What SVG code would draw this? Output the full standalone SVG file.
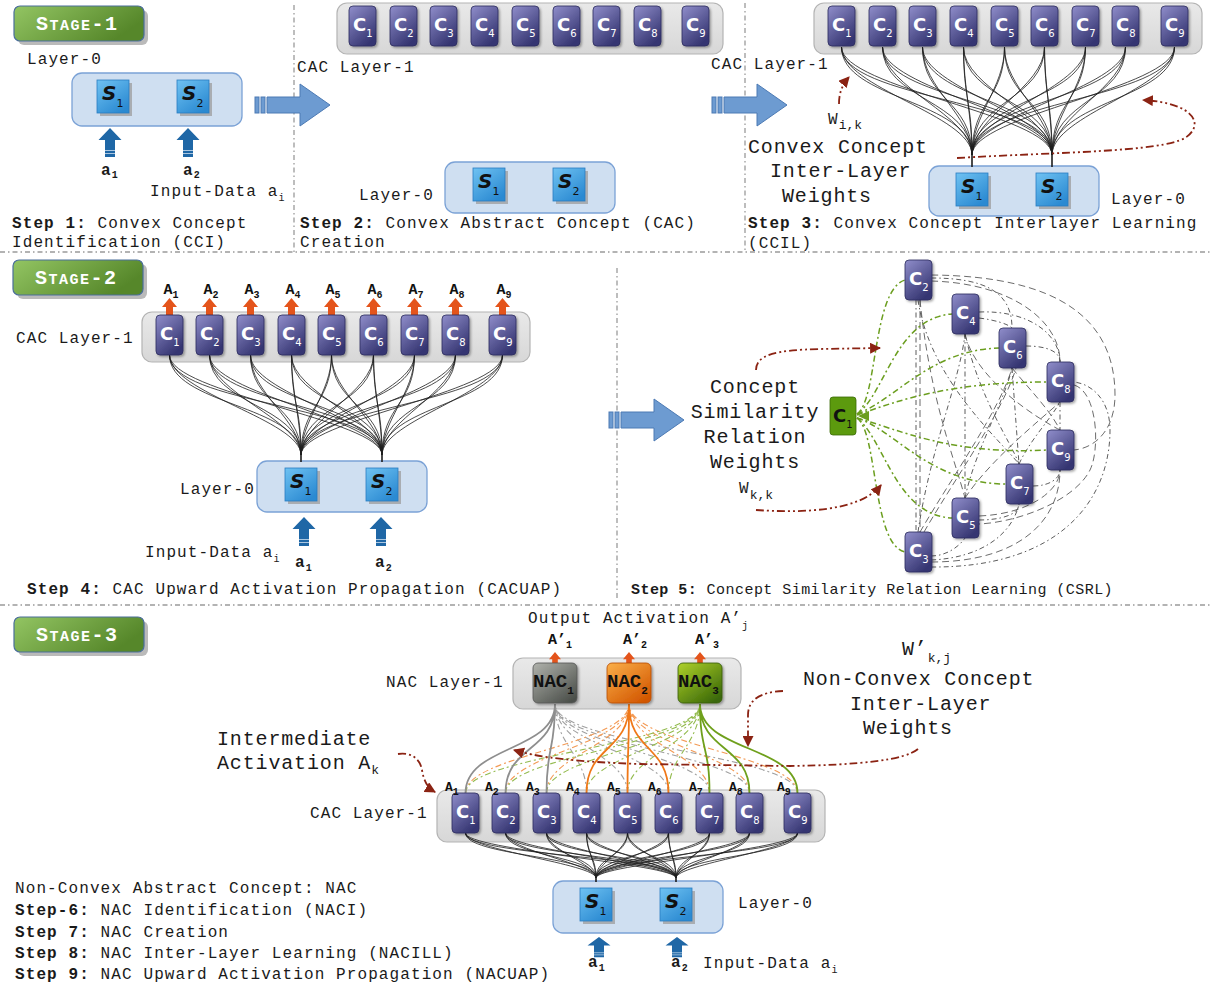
<svg xmlns="http://www.w3.org/2000/svg" width="1212" height="990" viewBox="0 0 1212 990">
<defs>
<style>
.t{font-family:"Liberation Mono","Courier New",monospace;font-size:16px;letter-spacing:1.1px;fill:#1a1a1a}
.bd{font-weight:bold}
.big{font-size:20px;letter-spacing:0.85px}
.sm{font-size:15px;letter-spacing:0.45px}
.sb{font-size:10px;letter-spacing:0}
.sbb{font-size:13px;letter-spacing:0}
.cl{font-family:"DejaVu Sans",sans-serif;font-weight:bold;font-size:18px;fill:#fff}
.cs{font-size:10px;font-weight:normal}
.sl{font-family:"DejaVu Sans",sans-serif;font-weight:bold;font-style:italic;font-size:20px;fill:#111}
.ss{font-size:11px;font-style:normal;font-weight:normal}
.nl{font-family:"Liberation Mono",monospace;font-weight:bold;font-size:19px;fill:#111}
.ak{font-family:"Liberation Mono",monospace;font-weight:bold;font-size:15px;fill:#111}
.ak3{font-family:"Liberation Mono",monospace;font-weight:bold;font-size:13px;fill:#111}
.badge{font-family:"Liberation Mono",monospace;font-weight:bold;fill:#fff;letter-spacing:1.5px}
.div{fill:none;stroke:#9a9a9a;stroke-width:1.3;stroke-dasharray:5 3 1.5 3}
.fan{fill:none;stroke:#1e1e1e;stroke-width:0.8}
.stub{stroke:#1e1e1e;stroke-width:1.6}
.red{fill:none;stroke:#8b2313;stroke-width:1.8;stroke-dasharray:8 3 2 3 2 3}
.grn{fill:none;stroke:#6b9e1f;stroke-width:1.5;stroke-dasharray:6 3 2 3}
.web{fill:none;stroke:#4a4a4a;stroke-width:0.9;stroke-dasharray:5 3 1.5 3}
.web2{fill:none;stroke:#5a5a5a;stroke-width:0.9;stroke-dasharray:7 4}
.cbox{fill:url(#gC);stroke:#b4b4b4;stroke-width:1.2}
.sbox{fill:#cfdff1;stroke:#7ba2d6;stroke-width:1.3}
.blk{fill:#6d9bd1;stroke:#4c7ab4;stroke-width:1}
.inA{fill:#1f67a6}
.orA{fill:#e4541b}
.dg{fill:none;stroke:#a0a0a0;stroke-width:1.1;stroke-dasharray:6 3 2 3}
.do{fill:none;stroke:#f39a55;stroke-width:1.1;stroke-dasharray:6 3 2 3}
.dgr{fill:none;stroke:#93bb4e;stroke-width:1.1;stroke-dasharray:6 3 2 3}
.sg{fill:none;stroke:#8e8e8e;stroke-width:1.8}
.so{fill:none;stroke:#f07818;stroke-width:1.8}
.sgr{fill:none;stroke:#6fa01c;stroke-width:1.8}
</style>
<linearGradient id="gP" x1="0" y1="0" x2="0.6" y2="1"><stop offset="0" stop-color="#908ecb"/><stop offset="1" stop-color="#363672"/></linearGradient>
<linearGradient id="gS" x1="0" y1="0" x2="0.7" y2="1"><stop offset="0" stop-color="#6fc2f2"/><stop offset="1" stop-color="#2b8ad2"/></linearGradient>
<linearGradient id="gC" x1="0" y1="0" x2="0" y2="1"><stop offset="0" stop-color="#e9e9e9"/><stop offset="1" stop-color="#d7d7d7"/></linearGradient>
<linearGradient id="gG" x1="0" y1="0" x2="1" y2="0.4"><stop offset="0" stop-color="#93c563"/><stop offset="1" stop-color="#56872a"/></linearGradient>
<linearGradient id="gN1" x1="0" y1="0" x2="0.8" y2="1"><stop offset="0" stop-color="#b0b2ac"/><stop offset="1" stop-color="#4c504b"/></linearGradient>
<linearGradient id="gN2" x1="0" y1="0" x2="0.8" y2="1"><stop offset="0" stop-color="#fbb04a"/><stop offset="1" stop-color="#d25600"/></linearGradient>
<linearGradient id="gN3" x1="0" y1="0" x2="0.8" y2="1"><stop offset="0" stop-color="#afd22a"/><stop offset="1" stop-color="#3a6808"/></linearGradient>
<filter id="sh" x="-30%" y="-30%" width="160%" height="160%"><feDropShadow dx="1.5" dy="1.5" stdDeviation="1" flood-color="#000" flood-opacity="0.35"/></filter>
<marker id="rh" viewBox="0 0 10 10" refX="9" refY="5" markerWidth="11" markerHeight="11" markerUnits="userSpaceOnUse" orient="auto"><path d="M0,0L10,5L0,10Z" fill="#8b2313"/></marker>
<rect id="cn" width="27" height="40" rx="4" fill="url(#gP)" stroke="#2c2c5e" stroke-width="0.8" filter="url(#sh)"/>
<g id="sn"><rect x="3" y="3" width="32" height="33" fill="#9c9c9c" opacity="0.75"/><rect width="32" height="33" fill="url(#gS)" stroke="#2a7cc0" stroke-width="0.8"/></g>
<g id="blkA" class="blk"><rect x="0" y="-8" width="4" height="16"/><rect x="6" y="-8" width="4" height="16"/><path d="M12,-8H45V-21L75,0L45,21V8H12Z"/></g>
<g id="inArrow" class="inA"><path d="M0,0L11.5,12H5V29H-5V12H-11.5Z"/><path d="M-5,22.5H5M-5,25.5H5" stroke="#cfe0f0" stroke-width="0.8"/></g>
<path id="orArrow" class="orA" d="M0,0L7.5,9H3.5V20H-3.5V9H-7.5Z"/>
<g id="badgeBg"><rect x="4" y="4" width="130" height="35" rx="6" fill="#8c8c8c" opacity="0.6"/><rect width="130" height="35" rx="6" fill="url(#gG)" stroke="#4a6e9a" stroke-width="1.2"/></g>
</defs>

<rect width="1212" height="990" fill="#fff"/>

<!-- section dividers -->
<g id="dividers">
<path class="div" d="M0,252H1212M0,605H1212M294,5V252M745,3V252M617,268V600"/>
</g>

<!-- stage badges -->
<g id="badge1"><use href="#badgeBg" x="14" y="6"/><text class="badge" x="36" y="30"><tspan font-size="20">S</tspan><tspan font-size="15">TAGE</tspan><tspan font-size="20">-1</tspan></text></g>
<g id="badge2"><use href="#badgeBg" x="13" y="260"/><text class="badge" x="35" y="284"><tspan font-size="20">S</tspan><tspan font-size="15">TAGE</tspan><tspan font-size="20">-2</tspan></text></g>
<g id="badge3"><use href="#badgeBg" x="14" y="617"/><text class="badge" x="36" y="641"><tspan font-size="20">S</tspan><tspan font-size="15">TAGE</tspan><tspan font-size="20">-3</tspan></text></g>

<!-- layer containers -->
<g id="layers">
<rect id="l0-step1" class="sbox" x="72" y="73" width="170" height="53" rx="10"/>
<rect id="l1-step2" class="cbox" x="337" y="3" width="386" height="51" rx="10"/>
<rect id="l0-step2" class="sbox" x="445" y="162" width="170" height="51" rx="10"/>
<rect id="l1-step3" class="cbox" x="814" y="3" width="388" height="51" rx="10"/>
<rect id="l0-step3" class="sbox" x="929" y="166" width="170" height="50" rx="10"/>
<rect id="l1-step4" class="cbox" x="142" y="312" width="388" height="50" rx="10"/>
<rect id="l0-step4" class="sbox" x="257" y="461" width="170" height="51" rx="10"/>
<rect id="nac-layer" class="cbox" x="513" y="658" width="228" height="51" rx="10"/>
<rect id="l1-stage3" class="cbox" x="437" y="790" width="388" height="52" rx="10"/>
<rect id="l0-stage3" class="sbox" x="553" y="881" width="170" height="52" rx="10"/>
</g>

<!-- connectors -->
<g id="connectors">
<!-- transition arrows -->
<use href="#blkA" x="255" y="105"/>
<use href="#blkA" x="712" y="105"/>
<use href="#blkA" x="609" y="420"/>

<!-- step 3: C to S fan -->
<g id="fan-step3" class="fan">
<path d="M841.5,47C841.5,100 972,100 972,155M841.5,47C841.5,88 972,115 972,155M841.5,47C841.5,100 1052,100 1052,155M841.5,47C841.5,88 1052,115 1052,155"/>
<path d="M882.5,47C882.5,100 972,100 972,155M882.5,47C882.5,88 972,115 972,155M882.5,47C882.5,100 1052,100 1052,155M882.5,47C882.5,88 1052,115 1052,155"/>
<path d="M922.5,47C922.5,100 972,100 972,155M922.5,47C922.5,88 972,115 972,155M922.5,47C922.5,100 1052,100 1052,155M922.5,47C922.5,88 1052,115 1052,155"/>
<path d="M963.5,47C963.5,100 972,100 972,155M963.5,47C963.5,88 972,115 972,155M963.5,47C963.5,100 1052,100 1052,155M963.5,47C963.5,88 1052,115 1052,155"/>
<path d="M1004.5,47C1004.5,100 972,100 972,155M1004.5,47C1004.5,88 972,115 972,155M1004.5,47C1004.5,100 1052,100 1052,155M1004.5,47C1004.5,88 1052,115 1052,155"/>
<path d="M1044.5,47C1044.5,100 972,100 972,155M1044.5,47C1044.5,88 972,115 972,155M1044.5,47C1044.5,100 1052,100 1052,155M1044.5,47C1044.5,88 1052,115 1052,155"/>
<path d="M1085.5,47C1085.5,100 972,100 972,155M1085.5,47C1085.5,88 972,115 972,155M1085.5,47C1085.5,100 1052,100 1052,155M1085.5,47C1085.5,88 1052,115 1052,155"/>
<path d="M1125.5,47C1125.5,100 972,100 972,155M1125.5,47C1125.5,88 972,115 972,155M1125.5,47C1125.5,100 1052,100 1052,155M1125.5,47C1125.5,88 1052,115 1052,155"/>
<path d="M1174.5,47C1174.5,100 972,100 972,155M1174.5,47C1174.5,88 972,115 972,155M1174.5,47C1174.5,100 1052,100 1052,155M1174.5,47C1174.5,88 1052,115 1052,155"/>
</g>
<path class="stub" d="M972,150V167M1052,150V167"/>

<!-- step 4: C to S fan -->
<g id="fan-step4" class="fan">
<path d="M169.5,355C169.5,405 301,405 301,455M169.5,355C169.5,393 301,420 301,455M169.5,355C169.5,405 382,405 382,455M169.5,355C169.5,393 382,420 382,455"/>
<path d="M209.5,355C209.5,405 301,405 301,455M209.5,355C209.5,393 301,420 301,455M209.5,355C209.5,405 382,405 382,455M209.5,355C209.5,393 382,420 382,455"/>
<path d="M250.5,355C250.5,405 301,405 301,455M250.5,355C250.5,393 301,420 301,455M250.5,355C250.5,405 382,405 382,455M250.5,355C250.5,393 382,420 382,455"/>
<path d="M291.5,355C291.5,405 301,405 301,455M291.5,355C291.5,393 301,420 301,455M291.5,355C291.5,405 382,405 382,455M291.5,355C291.5,393 382,420 382,455"/>
<path d="M331.5,355C331.5,405 301,405 301,455M331.5,355C331.5,393 301,420 301,455M331.5,355C331.5,405 382,405 382,455M331.5,355C331.5,393 382,420 382,455"/>
<path d="M373.5,355C373.5,405 301,405 301,455M373.5,355C373.5,393 301,420 301,455M373.5,355C373.5,405 382,405 382,455M373.5,355C373.5,393 382,420 382,455"/>
<path d="M414.5,355C414.5,405 301,405 301,455M414.5,355C414.5,393 301,420 301,455M414.5,355C414.5,405 382,405 382,455M414.5,355C414.5,393 382,420 382,455"/>
<path d="M455.5,355C455.5,405 301,405 301,455M455.5,355C455.5,393 301,420 301,455M455.5,355C455.5,405 382,405 382,455M455.5,355C455.5,393 382,420 382,455"/>
<path d="M502.5,355C502.5,405 301,405 301,455M502.5,355C502.5,393 301,420 301,455M502.5,355C502.5,405 382,405 382,455M502.5,355C502.5,393 382,420 382,455"/>
</g>
<path class="stub" d="M301,450V462M382,450V462"/>

<!-- stage 3: C to S fan -->
<g id="fan-stage3" class="fan">
<path d="M465.5,833C465.5,856 596,856 596,878M465.5,833C465.5,850 596,864 596,878M465.5,833C465.5,856 676,856 676,878M465.5,833C465.5,850 676,864 676,878"/>
<path d="M505.5,833C505.5,856 596,856 596,878M505.5,833C505.5,850 596,864 596,878M505.5,833C505.5,856 676,856 676,878M505.5,833C505.5,850 676,864 676,878"/>
<path d="M546.5,833C546.5,856 596,856 596,878M546.5,833C546.5,850 596,864 596,878M546.5,833C546.5,856 676,856 676,878M546.5,833C546.5,850 676,864 676,878"/>
<path d="M586.5,833C586.5,856 596,856 596,878M586.5,833C586.5,850 596,864 596,878M586.5,833C586.5,856 676,856 676,878M586.5,833C586.5,850 676,864 676,878"/>
<path d="M627.5,833C627.5,856 596,856 596,878M627.5,833C627.5,850 596,864 596,878M627.5,833C627.5,856 676,856 676,878M627.5,833C627.5,850 676,864 676,878"/>
<path d="M668.5,833C668.5,856 596,856 596,878M668.5,833C668.5,850 596,864 596,878M668.5,833C668.5,856 676,856 676,878M668.5,833C668.5,850 676,864 676,878"/>
<path d="M709.5,833C709.5,856 596,856 596,878M709.5,833C709.5,850 596,864 596,878M709.5,833C709.5,856 676,856 676,878M709.5,833C709.5,850 676,864 676,878"/>
<path d="M749.5,833C749.5,856 596,856 596,878M749.5,833C749.5,850 596,864 596,878M749.5,833C749.5,856 676,856 676,878M749.5,833C749.5,850 676,864 676,878"/>
<path d="M797.5,833C797.5,856 596,856 596,878M797.5,833C797.5,850 596,864 596,878M797.5,833C797.5,856 676,856 676,878M797.5,833C797.5,850 676,864 676,878"/>
</g>
<path class="stub" d="M596,875V882M676,875V882"/>

<!-- stage 3: C to NAC links (cross links dashed, own group solid) -->
<g id="nac-cross">
<path class="dg" d="M586.5,793C586.5,755 555,745 555,704M627.5,793C627.5,755 555,745 555,704M668.5,793C668.5,755 555,745 555,704M709.5,793C709.5,755 555,745 555,704M749.5,793C749.5,755 555,745 555,704M797.5,793C797.5,755 555,745 555,704"/>
<path class="do" d="M465.5,793C465.5,755 629,745 629,704M505.5,793C505.5,755 629,745 629,704M546.5,793C546.5,755 629,745 629,704M709.5,793C709.5,755 629,745 629,704M749.5,793C749.5,755 629,745 629,704M797.5,793C797.5,755 629,745 629,704"/>
<path class="dgr" d="M465.5,793C465.5,755 700,745 700,704M505.5,793C505.5,755 700,745 700,704M546.5,793C546.5,755 700,745 700,704M586.5,793C586.5,755 700,745 700,704M627.5,793C627.5,755 700,745 700,704M668.5,793C668.5,755 700,745 700,704"/>
</g>
<g id="nac-own">
<path class="sg" d="M465.5,793C465.5,745 555,752 555,704M505.5,793C505.5,745 555,752 555,704M546.5,793C546.5,745 555,752 555,704"/>
<path class="so" d="M586.5,793C586.5,745 629,752 629,704M627.5,793C627.5,745 629,752 629,704M668.5,793C668.5,745 629,752 629,704"/>
<path class="sgr" d="M709.5,793C709.5,745 700,752 700,704M749.5,793C749.5,745 700,752 700,704M797.5,793C797.5,745 700,752 700,704"/>
</g>

<!-- step 5: similarity web among concepts -->
<g id="sim-web">
<path class="web" d="M916,300V532"/>
<path class="web2" d="M920,300V532"/>
<path class="web" d="M965,334V498"/>
<path class="web" d="M1012,368L1019,464"/>
<path class="web" d="M1060,402V430"/>
<path class="web" d="M931,278C985,278 1012,292 1012,328"/>
<path class="web2" d="M931,281C1010,283 1060,320 1060,362"/>
<path class="web2" d="M931,275C1060,276 1115,320 1115,395C1115,430 1095,448 1074,450"/>
<path class="web" d="M979,312C1030,310 1060,335 1060,362"/>
<path class="web" d="M1026,346C1048,346 1060,352 1060,362"/>
<path class="web" d="M979,318C995,320 1008,324 1012,328"/>
<path class="web2" d="M965,334C975,380 1040,420 1060,430"/>
<path class="web" d="M918,300C930,380 1000,440 1019,464"/>
<path class="web2" d="M920,300C930,400 955,460 965,498"/>
<path class="web" d="M918,532C930,450 960,380 965,334"/>
<path class="web2" d="M920,532C950,480 1000,410 1012,368"/>
<path class="web2" d="M924,532C954,480 1004,410 1016,368"/>
<path class="web" d="M965,498C975,450 1005,400 1012,368"/>
<path class="web2" d="M965,498C990,460 1040,420 1060,402"/>
<path class="web" d="M965,334C980,400 1010,440 1019,464"/>
<path class="web2" d="M1012,368C1030,390 1050,410 1060,430"/>
<path class="web" d="M931,556C945,556 958,548 965,538"/>
<path class="web" d="M931,560C980,558 1012,535 1019,504"/>
<path class="web2" d="M931,562C1020,562 1060,520 1060,470"/>
<path class="web" d="M931,567C1060,568 1110,500 1110,430C1110,400 1092,384 1074,382"/>
<path class="web" d="M979,520C1000,520 1019,515 1019,504"/>
<path class="web2" d="M979,516C1030,514 1060,490 1060,470"/>
<path class="web" d="M1033,486C1050,486 1060,478 1060,470"/>
<path class="web" d="M1019,464C1030,440 1050,420 1060,402"/>
<path class="web2" d="M1074,385C1098,392 1100,450 1090,470C1075,500 1020,522 979,524"/>
</g>

<!-- step 5: links from C1 -->
<g id="sim-c1">
<path class="grn" d="M857,414C878,400 872,290 905,280"/>
<path class="grn" d="M857,414C885,395 895,318 952,314"/>
<path class="grn" d="M857,414C895,400 930,350 999,348"/>
<path class="grn" d="M857,415C900,400 950,382 1047,382"/>
<path class="grn" d="M857,418C900,430 950,455 1047,450"/>
<path class="grn" d="M857,418C895,430 930,484 1006,484"/>
<path class="grn" d="M857,418C885,440 895,515 952,518"/>
<path class="grn" d="M857,418C878,432 872,545 905,552"/>
<path d="M858,416L869,411L869,421Z" fill="#6b9e1f"/>
</g>

<!-- weight annotations -->
<g id="weight-arrows">
<path class="red" marker-end="url(#rh)" d="M957,158C1060,152 1160,152 1185,138C1205,125 1195,103 1143,100"/>
<path class="red" marker-end="url(#rh)" d="M839,104C839,93 842,85 849,77"/>
<path class="red" marker-end="url(#rh)" d="M756,370C756,355 775,350 820,349L880,348"/>
<path class="red" marker-end="url(#rh)" d="M756,510C800,513 860,512 881,485"/>
<path class="red" marker-end="url(#rh)" d="M398,754C410,752 420,758 422,770C424,782 428,788 435,792"/>
<path class="red" marker-end="url(#rh)" d="M918,749C905,760 860,765 790,766L640,764C580,762 540,758 514,750"/>
<path class="red" marker-end="url(#rh)" d="M783,691C760,692 748,700 748,715L748,746"/>
</g>
</g>

<!-- STAGE 1 / STEP 1 -->
<g id="s1-s1"><use href="#sn" x="97" y="80"/><text class="sl" x="102" y="100">S<tspan class="ss" dy="7">1</tspan></text></g>
<g id="s1-s2"><use href="#sn" x="177" y="80"/><text class="sl" x="182" y="100">S<tspan class="ss" dy="7">2</tspan></text></g>
<g id="s1-in1"><use href="#inArrow" x="110" y="128"/><text class="t bd" x="101" y="175">a<tspan class="sb" dy="3">1</tspan></text></g>
<g id="s1-in2"><use href="#inArrow" x="188" y="128"/><text class="t bd" x="183" y="175">a<tspan class="sb" dy="3">2</tspan></text></g>
<g id="s1-text">
<text class="t" x="27" y="64">Layer-0</text>
<text class="t" x="150" y="196">Input-Data a<tspan class="sb" dy="5">i</tspan></text>
<text class="t" x="12" y="228"><tspan class="bd">Step 1:</tspan> Convex Concept</text>
<text class="t" x="12" y="247">Identification (CCI)</text>
</g>

<!-- STAGE 1 / STEP 2 -->
<g id="s2-c1"><use href="#cn" x="349" y="6"/><text class="cl" x="353" y="31">C<tspan class="cs" dy="6">1</tspan></text></g>
<g id="s2-c2"><use href="#cn" x="390" y="6"/><text class="cl" x="394" y="31">C<tspan class="cs" dy="6">2</tspan></text></g>
<g id="s2-c3"><use href="#cn" x="430" y="6"/><text class="cl" x="434" y="31">C<tspan class="cs" dy="6">3</tspan></text></g>
<g id="s2-c4"><use href="#cn" x="471" y="6"/><text class="cl" x="475" y="31">C<tspan class="cs" dy="6">4</tspan></text></g>
<g id="s2-c5"><use href="#cn" x="512" y="6"/><text class="cl" x="516" y="31">C<tspan class="cs" dy="6">5</tspan></text></g>
<g id="s2-c6"><use href="#cn" x="553" y="6"/><text class="cl" x="557" y="31">C<tspan class="cs" dy="6">6</tspan></text></g>
<g id="s2-c7"><use href="#cn" x="593" y="6"/><text class="cl" x="597" y="31">C<tspan class="cs" dy="6">7</tspan></text></g>
<g id="s2-c8"><use href="#cn" x="634" y="6"/><text class="cl" x="638" y="31">C<tspan class="cs" dy="6">8</tspan></text></g>
<g id="s2-c9"><use href="#cn" x="682" y="6"/><text class="cl" x="686" y="31">C<tspan class="cs" dy="6">9</tspan></text></g>
<g id="s2-s1"><use href="#sn" x="473" y="168"/><text class="sl" x="478" y="188">S<tspan class="ss" dy="7">1</tspan></text></g>
<g id="s2-s2"><use href="#sn" x="553" y="168"/><text class="sl" x="558" y="188">S<tspan class="ss" dy="7">2</tspan></text></g>
<g id="s2-text">
<text class="t" x="297" y="72">CAC Layer-1</text>
<text class="t" x="359" y="200">Layer-0</text>
<text class="t" x="300" y="228"><tspan class="bd">Step 2:</tspan> Convex Abstract Concept (CAC)</text>
<text class="t" x="300" y="247">Creation</text>
</g>

<!-- STAGE 1 / STEP 3 -->
<g id="s3-c1"><use href="#cn" x="828" y="6"/><text class="cl" x="832" y="31">C<tspan class="cs" dy="6">1</tspan></text></g>
<g id="s3-c2"><use href="#cn" x="869" y="6"/><text class="cl" x="873" y="31">C<tspan class="cs" dy="6">2</tspan></text></g>
<g id="s3-c3"><use href="#cn" x="909" y="6"/><text class="cl" x="913" y="31">C<tspan class="cs" dy="6">3</tspan></text></g>
<g id="s3-c4"><use href="#cn" x="950" y="6"/><text class="cl" x="954" y="31">C<tspan class="cs" dy="6">4</tspan></text></g>
<g id="s3-c5"><use href="#cn" x="991" y="6"/><text class="cl" x="995" y="31">C<tspan class="cs" dy="6">5</tspan></text></g>
<g id="s3-c6"><use href="#cn" x="1031" y="6"/><text class="cl" x="1035" y="31">C<tspan class="cs" dy="6">6</tspan></text></g>
<g id="s3-c7"><use href="#cn" x="1072" y="6"/><text class="cl" x="1076" y="31">C<tspan class="cs" dy="6">7</tspan></text></g>
<g id="s3-c8"><use href="#cn" x="1112" y="6"/><text class="cl" x="1116" y="31">C<tspan class="cs" dy="6">8</tspan></text></g>
<g id="s3-c9"><use href="#cn" x="1161" y="6"/><text class="cl" x="1165" y="31">C<tspan class="cs" dy="6">9</tspan></text></g>
<g id="s3-s1"><use href="#sn" x="956" y="173"/><text class="sl" x="961" y="193">S<tspan class="ss" dy="7">1</tspan></text></g>
<g id="s3-s2"><use href="#sn" x="1036" y="173"/><text class="sl" x="1041" y="193">S<tspan class="ss" dy="7">2</tspan></text></g>
<g id="s3-text">
<text class="t" x="711" y="69">CAC Layer-1</text>
<text class="t" x="828" y="124" font-size="17">W<tspan class="sbb" dy="5">i,k</tspan></text>
<text class="t big" x="748" y="153">Convex Concept</text>
<text class="t big" x="770" y="177">Inter-Layer</text>
<text class="t big" x="782" y="202">Weights</text>
<text class="t" x="1111" y="204">Layer-0</text>
<text class="t" x="748" y="228"><tspan class="bd">Step 3:</tspan> Convex Concept Interlayer Learning</text>
<text class="t" x="748" y="248">(CCIL)</text>
</g>

<!-- STAGE 2 / STEP 4 -->
<g id="s4-c1"><use href="#orArrow" x="169.5" y="298"/><use href="#cn" x="156" y="315"/><text class="cl" x="160" y="340">C<tspan class="cs" dy="6">1</tspan></text><text class="ak" x="163.5" y="294">A<tspan class="sb" dy="4">1</tspan></text></g>
<g id="s4-c2"><use href="#orArrow" x="209.5" y="298"/><use href="#cn" x="196" y="315"/><text class="cl" x="200" y="340">C<tspan class="cs" dy="6">2</tspan></text><text class="ak" x="203.5" y="294">A<tspan class="sb" dy="4">2</tspan></text></g>
<g id="s4-c3"><use href="#orArrow" x="250.5" y="298"/><use href="#cn" x="237" y="315"/><text class="cl" x="241" y="340">C<tspan class="cs" dy="6">3</tspan></text><text class="ak" x="244.5" y="294">A<tspan class="sb" dy="4">3</tspan></text></g>
<g id="s4-c4"><use href="#orArrow" x="291.5" y="298"/><use href="#cn" x="278" y="315"/><text class="cl" x="282" y="340">C<tspan class="cs" dy="6">4</tspan></text><text class="ak" x="285.5" y="294">A<tspan class="sb" dy="4">4</tspan></text></g>
<g id="s4-c5"><use href="#orArrow" x="331.5" y="298"/><use href="#cn" x="318" y="315"/><text class="cl" x="322" y="340">C<tspan class="cs" dy="6">5</tspan></text><text class="ak" x="325.5" y="294">A<tspan class="sb" dy="4">5</tspan></text></g>
<g id="s4-c6"><use href="#orArrow" x="373.5" y="298"/><use href="#cn" x="360" y="315"/><text class="cl" x="364" y="340">C<tspan class="cs" dy="6">6</tspan></text><text class="ak" x="367.5" y="294">A<tspan class="sb" dy="4">6</tspan></text></g>
<g id="s4-c7"><use href="#orArrow" x="414.5" y="298"/><use href="#cn" x="401" y="315"/><text class="cl" x="405" y="340">C<tspan class="cs" dy="6">7</tspan></text><text class="ak" x="408.5" y="294">A<tspan class="sb" dy="4">7</tspan></text></g>
<g id="s4-c8"><use href="#orArrow" x="455.5" y="298"/><use href="#cn" x="442" y="315"/><text class="cl" x="446" y="340">C<tspan class="cs" dy="6">8</tspan></text><text class="ak" x="449.5" y="294">A<tspan class="sb" dy="4">8</tspan></text></g>
<g id="s4-c9"><use href="#orArrow" x="502.5" y="298"/><use href="#cn" x="489" y="315"/><text class="cl" x="493" y="340">C<tspan class="cs" dy="6">9</tspan></text><text class="ak" x="496.5" y="294">A<tspan class="sb" dy="4">9</tspan></text></g>
<g id="s4-s1"><use href="#sn" x="285" y="468"/><text class="sl" x="290" y="488">S<tspan class="ss" dy="7">1</tspan></text></g>
<g id="s4-s2"><use href="#sn" x="366" y="468"/><text class="sl" x="371" y="488">S<tspan class="ss" dy="7">2</tspan></text></g>
<g id="s4-in1"><use href="#inArrow" x="304" y="517"/><text class="t bd" x="295" y="567">a<tspan class="sb" dy="4">1</tspan></text></g>
<g id="s4-in2"><use href="#inArrow" x="381" y="517"/><text class="t bd" x="375" y="567">a<tspan class="sb" dy="4">2</tspan></text></g>
<g id="s4-text">
<text class="t" x="16" y="343">CAC Layer-1</text>
<text class="t" x="180" y="494">Layer-0</text>
<text class="t" x="145" y="557">Input-Data a<tspan class="sb" dy="5">i</tspan></text>
<text class="t" x="27" y="594"><tspan class="bd">Step 4:</tspan> CAC Upward Activation Propagation (CACUAP)</text>
</g>

<!-- STAGE 2 / STEP 5 -->
<g id="s5-c1"><rect x="830" y="397" width="26" height="38" rx="3" fill="#5c9a0e" stroke="#3a6a05" stroke-width="0.8"/><text class="cl" x="833" y="422" style="fill:#111">C<tspan class="cs" dy="6">1</tspan></text></g>
<g id="s5-c2"><use href="#cn" x="905" y="260"/><text class="cl" x="909" y="285">C<tspan class="cs" dy="6">2</tspan></text></g>
<g id="s5-c4"><use href="#cn" x="952" y="294"/><text class="cl" x="956" y="319">C<tspan class="cs" dy="6">4</tspan></text></g>
<g id="s5-c6"><use href="#cn" x="999" y="328"/><text class="cl" x="1003" y="353">C<tspan class="cs" dy="6">6</tspan></text></g>
<g id="s5-c8"><use href="#cn" x="1047" y="362"/><text class="cl" x="1051" y="387">C<tspan class="cs" dy="6">8</tspan></text></g>
<g id="s5-c9"><use href="#cn" x="1047" y="430"/><text class="cl" x="1051" y="455">C<tspan class="cs" dy="6">9</tspan></text></g>
<g id="s5-c7"><use href="#cn" x="1006" y="464"/><text class="cl" x="1010" y="489">C<tspan class="cs" dy="6">7</tspan></text></g>
<g id="s5-c5"><use href="#cn" x="952" y="498"/><text class="cl" x="956" y="523">C<tspan class="cs" dy="6">5</tspan></text></g>
<g id="s5-c3"><use href="#cn" x="905" y="532"/><text class="cl" x="909" y="557">C<tspan class="cs" dy="6">3</tspan></text></g>
<g id="s5-text">
<text class="t big" x="755" y="393" text-anchor="middle">Concept</text>
<text class="t big" x="755" y="418" text-anchor="middle">Similarity</text>
<text class="t big" x="755" y="443" text-anchor="middle">Relation</text>
<text class="t big" x="755" y="468" text-anchor="middle">Weights</text>
<text class="t" x="739" y="493" font-size="17">W<tspan class="sbb" dy="6">k,k</tspan></text>
<text class="t sm" x="631" y="594"><tspan class="bd">Step 5:</tspan> Concept Similarity Relation Learning (CSRL)</text>
</g>

<!-- STAGE 3 -->
<g id="nac1"><use href="#orArrow" x="555" y="652" transform="translate(111,130.4) scale(0.8)"/><rect x="533" y="663" width="44" height="40" rx="5" fill="url(#gN1)" stroke="#555" stroke-width="0.8" filter="url(#sh)"/><text class="nl" x="533" y="687">NAC<tspan class="ss" dy="7" style="font-weight:bold">1</tspan></text><text class="ak" x="548" y="644" font-size="14">A’<tspan class="sb" dy="4">1</tspan></text></g>
<g id="nac2"><use href="#orArrow" x="629" y="652" transform="translate(125.8,130.4) scale(0.8)"/><rect x="607" y="663" width="44" height="40" rx="5" fill="url(#gN2)" stroke="#b84c00" stroke-width="0.8" filter="url(#sh)"/><text class="nl" x="607" y="687">NAC<tspan class="ss" dy="7" style="font-weight:bold">2</tspan></text><text class="ak" x="623" y="644" font-size="14">A’<tspan class="sb" dy="4">2</tspan></text></g>
<g id="nac3"><use href="#orArrow" x="700" y="652" transform="translate(140,130.4) scale(0.8)"/><rect x="678" y="663" width="44" height="40" rx="5" fill="url(#gN3)" stroke="#355c08" stroke-width="0.8" filter="url(#sh)"/><text class="nl" x="678" y="687">NAC<tspan class="ss" dy="7" style="font-weight:bold">3</tspan></text><text class="ak" x="695" y="644" font-size="14">A’<tspan class="sb" dy="4">3</tspan></text></g>

<g id="st3-c1"><use href="#cn" x="452" y="793"/><text class="cl" x="456" y="818">C<tspan class="cs" dy="6">1</tspan></text><text class="ak3" x="445" y="791">A<tspan class="sb" dy="4" font-size="9">1</tspan></text></g>
<g id="st3-c2"><use href="#cn" x="492" y="793"/><text class="cl" x="496" y="818">C<tspan class="cs" dy="6">2</tspan></text><text class="ak3" x="485" y="791">A<tspan class="sb" dy="4" font-size="9">2</tspan></text></g>
<g id="st3-c3"><use href="#cn" x="533" y="793"/><text class="cl" x="537" y="818">C<tspan class="cs" dy="6">3</tspan></text><text class="ak3" x="526" y="791">A<tspan class="sb" dy="4" font-size="9">3</tspan></text></g>
<g id="st3-c4"><use href="#cn" x="573" y="793"/><text class="cl" x="577" y="818">C<tspan class="cs" dy="6">4</tspan></text><text class="ak3" x="566" y="791">A<tspan class="sb" dy="4" font-size="9">4</tspan></text></g>
<g id="st3-c5"><use href="#cn" x="614" y="793"/><text class="cl" x="618" y="818">C<tspan class="cs" dy="6">5</tspan></text><text class="ak3" x="607" y="791">A<tspan class="sb" dy="4" font-size="9">5</tspan></text></g>
<g id="st3-c6"><use href="#cn" x="655" y="793"/><text class="cl" x="659" y="818">C<tspan class="cs" dy="6">6</tspan></text><text class="ak3" x="648" y="791">A<tspan class="sb" dy="4" font-size="9">6</tspan></text></g>
<g id="st3-c7"><use href="#cn" x="696" y="793"/><text class="cl" x="700" y="818">C<tspan class="cs" dy="6">7</tspan></text><text class="ak3" x="689" y="791">A<tspan class="sb" dy="4" font-size="9">7</tspan></text></g>
<g id="st3-c8"><use href="#cn" x="736" y="793"/><text class="cl" x="740" y="818">C<tspan class="cs" dy="6">8</tspan></text><text class="ak3" x="729" y="791">A<tspan class="sb" dy="4" font-size="9">8</tspan></text></g>
<g id="st3-c9"><use href="#cn" x="784" y="793"/><text class="cl" x="788" y="818">C<tspan class="cs" dy="6">9</tspan></text><text class="ak3" x="777" y="791">A<tspan class="sb" dy="4" font-size="9">9</tspan></text></g>
<g id="st3-s1"><use href="#sn" x="580" y="888"/><text class="sl" x="585" y="908">S<tspan class="ss" dy="7">1</tspan></text></g>
<g id="st3-s2"><use href="#sn" x="660" y="888"/><text class="sl" x="665" y="908">S<tspan class="ss" dy="7">2</tspan></text></g>
<g id="st3-in1"><use href="#inArrow" x="599" y="937" transform="translate(0,281.1) scale(1,0.7)"/><text class="t bd" x="588" y="967">a<tspan class="sb" dy="4">1</tspan></text></g>
<g id="st3-in2"><use href="#inArrow" x="677" y="937" transform="translate(0,281.1) scale(1,0.7)"/><text class="t bd" x="671" y="967">a<tspan class="sb" dy="4">2</tspan></text></g>
<g id="st3-text">
<text class="t" x="528" y="623">Output Activation A’<tspan class="sb" dy="6">j</tspan></text>
<text class="t" x="386" y="687">NAC Layer-1</text>
<text class="t big" x="217" y="745">Intermediate</text>
<text class="t big" x="217" y="769">Activation A<tspan class="sbb" dy="5">k</tspan></text>
<text class="t" x="310" y="818">CAC Layer-1</text>
<text class="t" x="738" y="908">Layer-0</text>
<text class="t" x="703" y="968">Input-Data a<tspan class="sb" dy="5">i</tspan></text>
<text class="t big" x="902" y="655">W’<tspan class="sbb" dy="7">k,j</tspan></text>
<text class="t big" x="803" y="685">Non-Convex Concept</text>
<text class="t big" x="850" y="710">Inter-Layer</text>
<text class="t big" x="863" y="734">Weights</text>
<text class="t" x="15" y="893">Non-Convex Abstract Concept: NAC</text>
<text class="t" x="15" y="915"><tspan class="bd">Step-6:</tspan> NAC Identification (NACI)</text>
<text class="t" x="15" y="937"><tspan class="bd">Step 7:</tspan> NAC Creation</text>
<text class="t" x="15" y="958"><tspan class="bd">Step 8:</tspan> NAC Inter-Layer Learning (NACILL)</text>
<text class="t" x="15" y="979"><tspan class="bd">Step 9:</tspan> NAC Upward Activation Propagation (NACUAP)</text>
</g>
</svg>
